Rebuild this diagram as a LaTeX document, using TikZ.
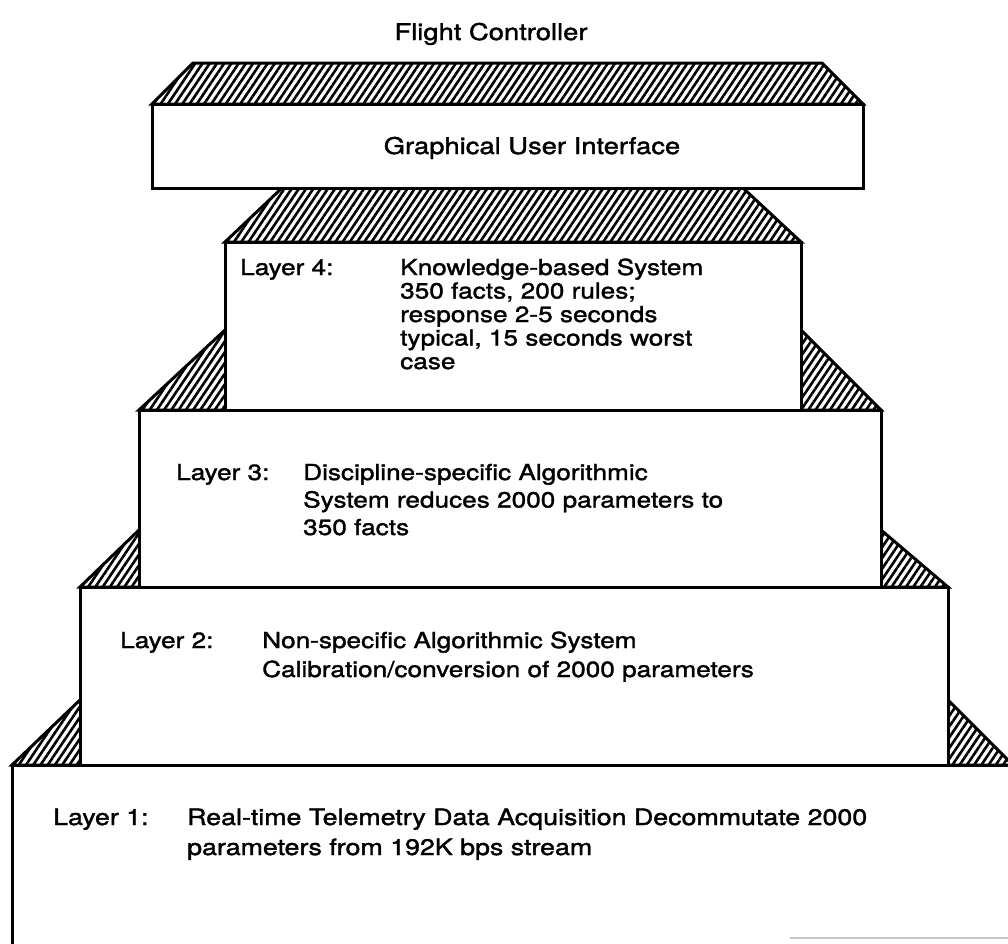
\documentclass[tikz,border=0pt]{standalone}
\usepackage{fontspec}
\setmainfont{TeX Gyre Heros}[FakeStretch=1.19,FakeBold=1.6]
\usetikzlibrary{patterns.meta}
\begin{document}
\begin{tikzpicture}[x=1pt,y=-1pt,
  hatch/.style={draw=black, line width=3pt, line join=miter,
    pattern={Lines[angle=56,distance=6pt,line width=2.6pt]}, pattern color=black},
  boxline/.style={draw=black, fill=white, line width=3pt, line join=miter},
  txt/.style={font=\fontsize{22}{24}\selectfont, inner sep=0pt, anchor=base west},
  btxt/.style={font=\fontsize{22.5}{24}\selectfont, inner sep=0pt, anchor=base west},
  ctxt/.style={font=\fontsize{23}{24}\selectfont, inner sep=0pt, anchor=base}]
\useasboundingbox (0,0) rectangle (1008,943);
\clip (0,0) rectangle (1008,943);
% Layer 1
\path[hatch] (12,765) -- (80,700) -- (948,700) -- (1013,765) -- cycle;
\path[boxline] (12,765) rectangle (1030,970);
\draw[gray!45, line width=1.2pt] (790,938) -- (1008,938);
% Layer 2
\path[hatch] (80,587) -- (139,530) -- (881,530) -- (948,587) -- cycle;
\path[boxline] (80,587) rectangle (948,765);
% Layer 3
\path[hatch] (139,410) -- (225,330) -- (801,330) -- (881,410) -- cycle;
\path[boxline] (139,410) rectangle (881,587);
% Layer 4
\path[hatch] (225,242) -- (282,188) -- (743,188) -- (801,242) -- cycle;
\path[boxline] (225,242) rectangle (801,410);
% GUI
\path[hatch] (152,104) -- (193,63) -- (822,63) -- (863,104) -- cycle;
\path[boxline] (152,104) rectangle (863,188);

\node[ctxt] (title) at (491,40) {Flight Controller};
\node[ctxt] (gui) at (532,154) {Graphical User Interface};

\node[txt] (l4) at (240,275) {Layer 4:};
\node[txt] (l4a) at (400,275) {Knowledge-based System};
\node[txt] (l4b) at (400,298.5) {350 facts, 200 rules;};
\node[txt] (l4c) at (400,322) {response 2-5 seconds};
\node[txt] (l4d) at (400,345.5) {typical, 15 seconds worst};
\node[txt] (l4e) at (400,369) {case};

\node[txt] (l3) at (176,480) {Layer 3:};
\node[txt] (l3a) at (303,480) {Discipline-specific Algorithmic};
\node[txt] (l3b) at (303,507.5) {System reduces 2000 parameters to};
\node[txt] (l3c) at (303,535) {350 facts};

\node[txt] (l2) at (120,648) {Layer 2:};
\node[txt] (l2a) at (262,648) {Non-specific Algorithmic System};
\node[txt] (l2b) at (262,677) {Calibration/conversion of 2000 parameters};

\node[btxt] (l1) at (53,825) {Layer 1:};
\node[btxt] (l1a) at (187,825) {Real-time Telemetry Data Acquisition Decommutate 2000};
\node[btxt] (l1b) at (187,855) {parameters from 192K bps stream};
\end{tikzpicture}
\end{document}
